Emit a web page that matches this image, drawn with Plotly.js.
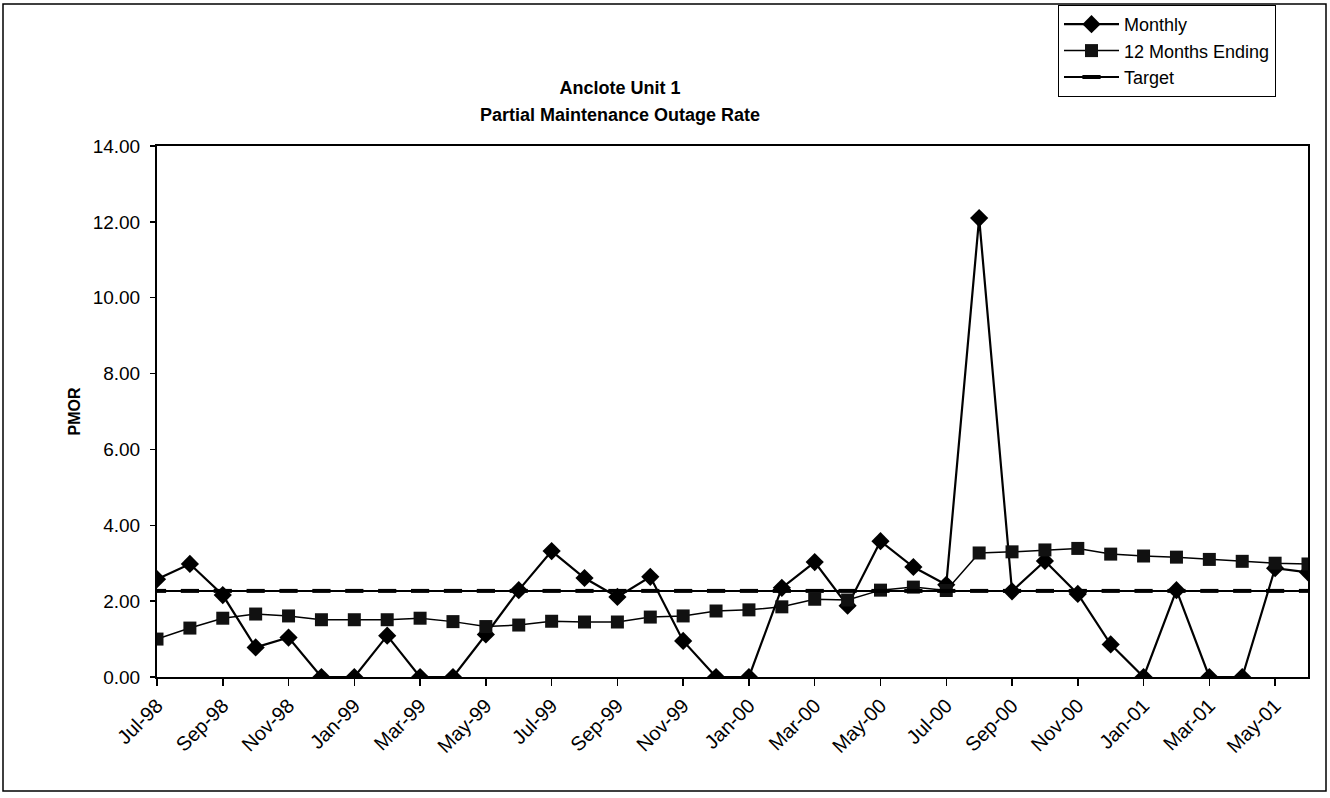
<!DOCTYPE html>
<html>
<head>
<meta charset="utf-8">
<script src="https://cdn.plot.ly/plotly-3.0.1.min.js"></script>
<style>
html,body{margin:0;padding:0;background:#fff;}
#chart{width:1330px;height:798px;}
</style>
</head>
<body>
<div id="chart"></div>
<script>
const months = ["Jul-98","Aug-98","Sep-98","Oct-98","Nov-98","Dec-98","Jan-99","Feb-99","Mar-99","Apr-99","May-99","Jun-99",
"Jul-99","Aug-99","Sep-99","Oct-99","Nov-99","Dec-99","Jan-00","Feb-00","Mar-00","Apr-00","May-00","Jun-00",
"Jul-00","Aug-00","Sep-00","Oct-00","Nov-00","Dec-00","Jan-01","Feb-01","Mar-01","Apr-01","May-01","Jun-01"];
const monthly = [2.58,2.98,2.16,0.78,1.04,0,0,1.09,0,0,1.12,2.29,
3.32,2.61,2.11,2.64,0.95,0,0,2.35,3.03,1.88,3.58,2.90,
2.43,12.10,2.26,3.06,2.19,0.86,0,2.29,0,0,2.87,2.76];
const rolling12 = [1.00,1.29,1.55,1.66,1.61,1.51,1.51,1.51,1.55,1.46,1.33,1.37,
1.47,1.45,1.45,1.58,1.61,1.74,1.77,1.85,2.05,2.03,2.29,2.37,
2.28,3.27,3.30,3.35,3.39,3.24,3.19,3.16,3.10,3.05,3.00,2.98];
const target = months.map(() => 2.27);
const tickLabels = months.filter((m, i) => i % 2 === 0);
const titleLine1 = "Anclote Unit 1";
const titleLine2 = "Partial Maintenance Outage Rate";

const font = "Liberation Sans, Arial, sans-serif";
const traces = [
  {x: months, y: monthly, name: "Monthly", type: "scatter", mode: "lines+markers",
   line: {color: "#000", width: 2.2}, marker: {symbol: "diamond", size: 14, color: "#000"}},
  {x: months, y: rolling12, name: "12 Months Ending", type: "scatter", mode: "lines+markers",
   line: {color: "#000", width: 1.5}, marker: {symbol: "square", size: 13, color: "#111"}},
  {x: months, y: target, name: "Target", type: "scatter", mode: "lines+markers",
   line: {color: "#000", width: 2}, marker: {symbol: "line-ew", size: 13, line: {color: "#000", width: 4}}}
];

const W = 1330, H = 798;
const L = 157, R = 1308, T = 146, B = 677;

const layout = {
  width: W, height: H,
  margin: {l: L, r: W - R, t: T, b: H - B, autoexpand: false},
  paper_bgcolor: "#fff", plot_bgcolor: "#fff",
  font: {family: font, color: "#000"},
  showlegend: true,
  title: {text: "<b>" + titleLine1 + "</b>",
    font: {family: font, size: 18, color: "#000"},
    x: 620 / W, xref: "container", xanchor: "center",
    y: 1 - 88 / H, yref: "container", yanchor: "middle", automargin: false},
  annotations: [
    {text: "<b>" + titleLine2 + "</b>", xref: "paper", yref: "paper",
     x: (620 - L) / (R - L), y: (B - 115) / (B - T), xanchor: "center", yanchor: "middle", showarrow: false,
     font: {family: font, size: 18, color: "#000"}}
  ],
  xaxis: {type: "category", range: [0, months.length - 1],
    tickmode: "array", tickvals: tickLabels, ticktext: tickLabels,
    tickangle: -45, tickfont: {family: font, size: 20, color: "#000"},
    ticks: "outside", ticklen: 7, tickwidth: 1.5, tickcolor: "#000",
    showline: true, linecolor: "#000", linewidth: 2, mirror: true,
    showgrid: false, zeroline: false, automargin: false},
  yaxis: {range: [0, 14], dtick: 2, tickformat: ".2f",
    tickfont: {family: font, size: 19, color: "#000"},
    ticks: "outside", ticklen: 5, tickwidth: 1.5, tickcolor: "#000",
    ticklabelstandoff: 6,
    showline: true, linecolor: "#000", linewidth: 2, mirror: true,
    showgrid: false, zeroline: false, automargin: false,
    title: {text: "<b>PMOR</b>", font: {family: font, size: 16, color: "#000"}, standoff: 8}},
  legend: {x: 1058 / W, y: 1 - 5 / H, xref: "container", yref: "container",
    xanchor: "left", yanchor: "top",
    bgcolor: "#fff", bordercolor: "#000", borderwidth: 1,
    font: {family: font, size: 18, color: "#000"},
    itemwidth: 55, tracegroupgap: 0},
  shapes: [
    {type: "rect", xref: "paper", yref: "paper",
     x0: (3 - L) / (R - L), x1: (1326 - L) / (R - L), y0: (B - 791) / (B - T), y1: (B - 4) / (B - T),
     line: {color: "#000", width: 1.5}, fillcolor: "rgba(0,0,0,0)", layer: "below"}
  ]
};

Plotly.newPlot("chart", traces, layout, {displayModeBar: false, staticPlot: true});
</script>
</body>
</html>
